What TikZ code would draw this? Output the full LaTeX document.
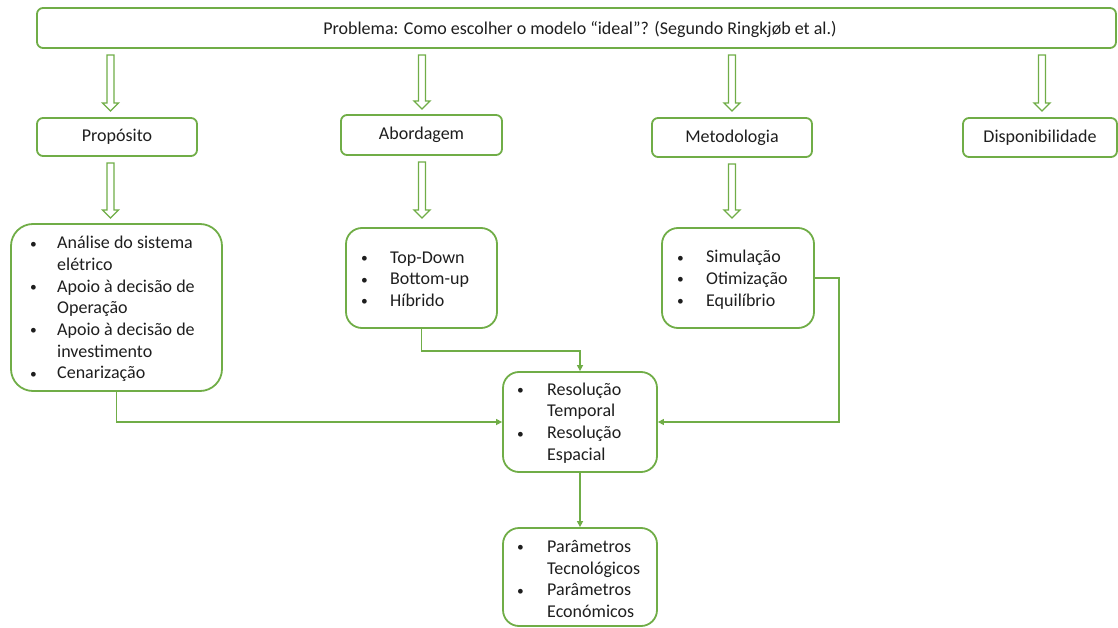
\documentclass[tikz,border=0pt]{standalone}
\usepackage{fontspec}
\setmainfont{Carlito}
\usetikzlibrary{arrows.meta}
\definecolor{gr}{HTML}{70AD47}
\definecolor{tx}{HTML}{1E1E1E}
\newcommand\bul{\makebox[\bw][l]{\raisebox{0.5pt}{\scalebox{0.75}{•}}}}
\newcommand\ind{\hspace*{\bw}}
\newlength\bw
\newcommand\mybarrow[3]{%
  \draw[barrow] (#1-3.5,#2) -- (#1+3.5,#2) -- (#1+3.5,#3-8) -- (#1+8,#3-8) -- (#1,#3) -- (#1-8,#3-8) -- (#1-3.5,#3-8) -- cycle;}
\begin{document}
\begin{tikzpicture}[x=1pt,y=-1pt,
  box/.style={draw=gr,line width=1.8pt,rounded corners=6pt,minimum width=#1,inner sep=0pt},
  lbox/.style={draw=gr,line width=1.8pt,inner sep=0pt},
  txt/.style={text=tx,font=\fontsize{18}{21.7}\selectfont,inner sep=0pt,align=left,anchor=west},
  conn/.style={draw=gr,line width=1.4pt,-{Triangle[length=6pt,width=6pt]}},
  barrow/.style={draw=gr,line width=1.3pt,fill=white,line join=miter}]
\useasboundingbox (0,0) rectangle (1118,628);
% top
\node[box=1079pt,minimum height=40pt] (top) at (576.5,28) {};
\node[txt,anchor=center] (toptxt) at (580,29) {Problema: Como escolher o modelo “ideal”? (Segundo Ringkjøb et al.)};
% second row
\node[box=160pt,minimum height=38pt] (prop) at (117,137) {};
\node[txt,anchor=center] (propt) at (prop.center) {Propósito};
\node[box=161pt,minimum height=40pt] (abord) at (421.5,135) {};
\node[txt,anchor=center] (abordt) at (abord.center) {Abordagem};
\node[box=160pt,minimum height=39pt] (metod) at (732,137.5) {};
\node[txt,anchor=center] (metodt) at (metod.center) {Metodologia};
\node[box=154pt,minimum height=39pt] (disp) at (1040,137.5) {};
\node[txt,anchor=center] (dispt) at (disp.center) {Disponibilidade};
% block arrows
\mybarrow{110.5}{55}{111}
\mybarrow{422}{55}{109}
\mybarrow{732}{55}{111}
\mybarrow{1042}{55}{111}
\mybarrow{110.5}{163}{218}
\mybarrow{422}{162}{218}
\mybarrow{732}{164}{218}
% list boxes
\node[lbox,rounded corners=22pt,minimum width=211pt,minimum height=167pt] (plist) at (116.5,307.5) {};
\node[lbox,rounded corners=16pt,minimum width=151pt,minimum height=100pt] (alist) at (421.5,278) {};
\node[lbox,rounded corners=16pt,minimum width=152pt,minimum height=100pt] (mlist) at (738,278) {};
\node[lbox,rounded corners=16pt,minimum width=154pt,minimum height=100pt] (res) at (580,422) {};
\node[lbox,rounded corners=16pt,minimum width=154pt,minimum height=98pt] (par) at (580,577) {};
% list texts
\setlength\bw{27pt}
\node[txt] (plt) at (30,309) {\bul Análise do sistema\\\ind elétrico\\\bul Apoio à decisão de\\\ind Operação\\\bul Apoio à decisão de\\\ind investimento\\\bul Cenarização};
\setlength\bw{29pt}
\node[txt] (alt) at (361,279) {\bul Top-Down\\\bul Bottom-up\\\bul Híbrido};
\node[txt] (mlt) at (677,279.5) {\bul Simulação\\\bul Otimização\\\bul Equilíbrio};
\setlength\bw{30pt}
\node[txt] (rlt) at (517,423) {\bul Resolução\\\ind Temporal\\\bul Resolução\\\ind Espacial};
\node[txt] (plt2) at (517,579) {\bul Parâmetros\\\ind Tecnológicos\\\bul Parâmetros\\\ind Económicos};
% connectors
\draw[conn] (plist.south) |- (res.west);
\draw[conn] (alist.south) -- ++(0,22) -| (res.north);
\draw[conn] (mlist.east) -- ++(24,0) |- (res.east);
\draw[conn] (res.south) -- (par.north);
\end{tikzpicture}
\end{document}
